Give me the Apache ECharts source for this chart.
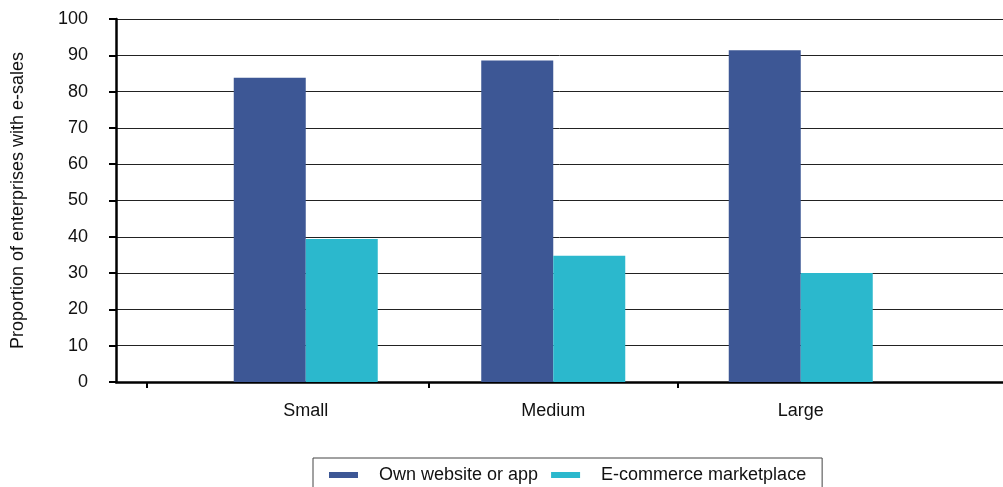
<!DOCTYPE html>
<html>
<head>
<meta charset="utf-8">
<script src="https://cdn.jsdelivr.net/npm/echarts@6/dist/echarts.min.js"></script>
<style>html,body{margin:0;padding:0;background:#fff}#c{width:1003px;height:487px}</style>
</head>
<body>
<div id="c"></div>
<script>
const categories = ['Small', 'Medium', 'Large'];
const ownWebsite = [83.8, 88.6, 91.4];
const marketplace = [39.4, 34.8, 30.0];
const yTicks = [0, 10, 20, 30, 40, 50, 60, 70, 80, 90, 100];
const seriesNames = ['Own website or app', 'E-commerce marketplace'];
const outerTickPositions = [-0.642, 0.497, 1.5];

const FONT = '"Liberation Sans", Arial, sans-serif';
const chart = echarts.init(document.getElementById('c'), null, {renderer: 'canvas'});
chart.setOption({
  animation: false,
  backgroundColor: '#fff',
  textStyle: {fontFamily: FONT},
  grid: [
    {left: 116, right: 0, top: 19, bottom: 105, containLabel: false, outerBoundsMode: 'none'},
    {left: 182, width: 742.5, top: 19, bottom: 105, containLabel: false, outerBoundsMode: 'none'}
  ],
  legend: {
    data: seriesNames,
    left: 313, top: 458,
    padding: [8, 16, 8, 16],
    borderColor: '#444', borderWidth: 1,
    itemWidth: 29, itemHeight: 6, itemGap: 13,
    icon: 'rect',
    textStyle: {fontFamily: FONT, fontSize: 18, color: '#111', padding: [0, 0, 0, 16]}
  },
  xAxis: [
    {
      type: 'value', gridIndex: 0, min: -0.768, max: 2.816,
      splitLine: {show: false},
      axisLine: {show: true, onZero: false, lineStyle: {color: '#000', width: 2.5}},
      axisTick: {show: true, length: 6, lineStyle: {color: '#000', width: 2}, customValues: outerTickPositions},
      axisLabel: {show: false}
    },
    {
      type: 'category', gridIndex: 1, data: categories,
      axisLine: {show: false},
      axisTick: {show: false},
      axisLabel: {margin: 20, fontSize: 18, color: '#111', fontFamily: FONT}
    }
  ],
  yAxis: [
    {
      type: 'value', gridIndex: 0, min: 0, max: 100, interval: 10,
      name: 'Proportion of enterprises with e-sales',
      nameLocation: 'middle', nameGap: 89, nameRotate: 90,
      nameTextStyle: {fontSize: 18, color: '#111', fontFamily: FONT},
      axisLine: {show: true, onZero: false, lineStyle: {color: '#000', width: 2.5}},
      axisTick: {show: true, length: 7, lineStyle: {color: '#000', width: 2}},
      axisLabel: {margin: 28, fontSize: 18, color: '#111', fontFamily: FONT,
        formatter: v => yTicks.includes(v) ? String(v) : ''},
      splitLine: {show: true, lineStyle: {color: '#222', width: 1}}
    },
    {
      type: 'value', gridIndex: 1, min: 0, max: 100, interval: 10,
      show: false, splitLine: {show: false}
    }
  ],
  series: [
    {name: seriesNames[0], type: 'bar', xAxisIndex: 1, yAxisIndex: 1, data: ownWebsite,
      barWidth: 72, barGap: '0%', itemStyle: {color: '#3d5795'}},
    {name: seriesNames[1], type: 'bar', xAxisIndex: 1, yAxisIndex: 1, data: marketplace,
      barWidth: 72, barGap: '0%', itemStyle: {color: '#2bb8cd'}}
  ]
});
</script>
</body>
</html>
